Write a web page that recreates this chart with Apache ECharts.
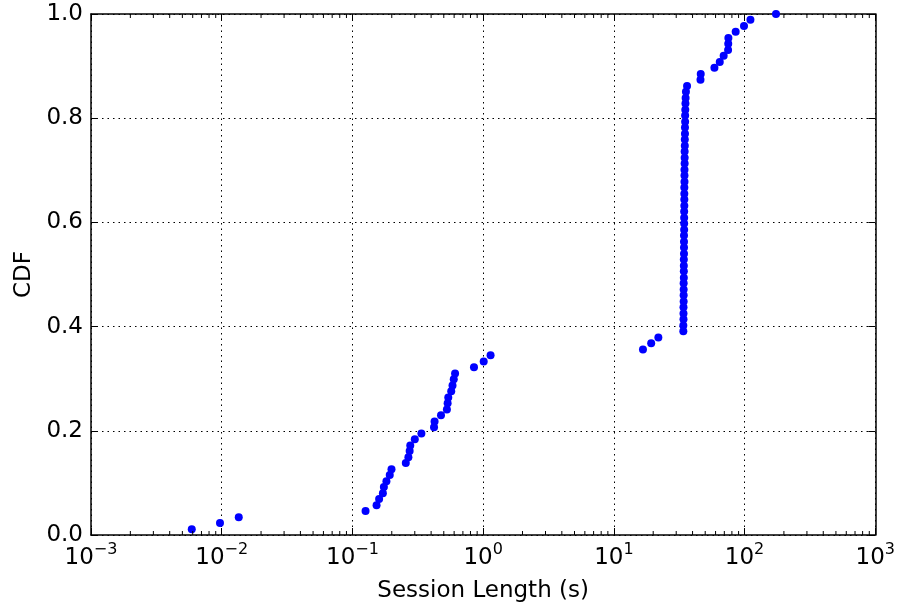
<!DOCTYPE html>
<html lang="en">
<head>
  <script src="https://cdn.jsdelivr.net/npm/echarts@6.0.0/dist/echarts.min.js"></script>
  <meta charset="UTF-8">
</head>
<body style="margin:0">
  <div id="cdfChart" style="width: 898px;height:609px;"></div>

  <script type="text/javascript">

    // session lengths (s), sorted
    var sessionLength = [
      0.0059, 0.0097, 0.0135,
      0.126, 0.153, 0.160, 0.171, 0.174, 0.182, 0.193, 0.199,
      0.256, 0.268, 0.274, 0.277, 0.300, 0.337, 0.421, 0.425, 0.476, 0.528, 0.535, 0.541, 0.570, 0.583, 0.596, 0.610,
      0.851, 1.01, 1.14,
      16.7, 19.3, 21.9,
      34.0, 34.0, 34.1, 34.1, 34.1, 34.2, 34.2, 34.2, 34.2, 34.3, 34.3, 34.3, 34.3, 34.4, 34.4, 34.4, 34.4,
      34.5, 34.5, 34.5, 34.5, 34.6, 34.6, 34.6, 34.6, 34.7, 34.7, 34.7, 34.8, 34.8, 34.8, 34.9, 34.9,
      35.0, 35.0, 35.1, 35.1, 35.2, 35.3, 35.4, 35.6,
      36.3, 46.0, 46.2, 58.8, 64.6, 69.2, 74.8, 75.0, 75.2, 85.5, 99, 110.9, 174
    ];
    var cdf = [
      0.011, 0.023, 0.034, 0.046, 0.057, 0.069, 0.080, 0.092, 0.103, 0.115,
      0.126, 0.138, 0.149, 0.161, 0.172, 0.184, 0.195, 0.207, 0.218, 0.230,
      0.241, 0.253, 0.264, 0.276, 0.287, 0.299, 0.310, 0.322, 0.333, 0.345,
      0.356, 0.368, 0.379, 0.391, 0.402, 0.414, 0.425, 0.437, 0.448, 0.460,
      0.471, 0.483, 0.494, 0.506, 0.517, 0.529, 0.540, 0.552, 0.563, 0.575,
      0.586, 0.598, 0.609, 0.621, 0.632, 0.644, 0.655, 0.667, 0.678, 0.690,
      0.701, 0.713, 0.724, 0.736, 0.747, 0.759, 0.770, 0.782, 0.793, 0.805,
      0.816, 0.828, 0.839, 0.851, 0.862, 0.874, 0.885, 0.897, 0.908, 0.920,
      0.931, 0.943, 0.954, 0.966, 0.977, 0.989, 1.000
    ];
    var decades = [0.001, 0.01, 0.1, 1, 10, 100];
    var minorSteps = [2, 3, 4, 5, 6, 7, 8, 9];

    var points = sessionLength.map((v, i) => [v, cdf[i]]);

    var minorTicks = [];
    decades.forEach(d => minorSteps.forEach(k => minorTicks.push([d * k, 0])));

    var font = 'DejaVu Sans';

    function expLabel(v) {
      var e = Math.round(Math.log10(v));
      return '{b|10}{s|' + String(e).replace('-', '\u2212') + '}';
    }

    function createCdfChart() {
        const chart = echarts.init(document.getElementById("cdfChart"));

        const frameLine = { show: true, onZero: false, lineStyle: { color: '#000', width: 1.5 } };
        const gridLine = { show: true, lineStyle: { color: '#000', width: 1, type: [1.5, 4] } };

        let option = {
            animation: false,
            textStyle: { fontFamily: font },
            grid: { left: 91, right: 22, top: 14, bottom: 74, containLabel: false },
            xAxis: [
                {
                    type: 'log', logBase: 10, min: 0.001, max: 1000, splitNumber: 6,
                    position: 'bottom',
                    name: 'Session Length (s)', nameLocation: 'middle', nameGap: 45,
                    nameTextStyle: { fontSize: 23, color: '#000', fontFamily: font },
                    axisLine: frameLine,
                    axisTick: { show: true, inside: true, length: 7, lineStyle: { color: '#000' } },
                    splitLine: gridLine,
                    axisLabel: {
                        color: '#000', margin: 7, formatter: expLabel,
                        rich: {
                            b: { fontSize: 23, fontFamily: font, color: '#000', padding: [5, 0, 0, 0] },
                            s: { fontSize: 16, fontFamily: font, color: '#000', verticalAlign: 'top' }
                        }
                    }
                },
                {
                    type: 'log', logBase: 10, min: 0.001, max: 1000, splitNumber: 6,
                    position: 'top',
                    axisLine: frameLine,
                    axisTick: { show: true, inside: true, length: 7, lineStyle: { color: '#000' } },
                    axisLabel: { show: false },
                    splitLine: { show: false }
                }
            ],
            yAxis: [
                {
                    type: 'value', min: 0, max: 1, interval: 0.2,
                    position: 'left',
                    name: 'CDF', nameLocation: 'middle', nameGap: 55,
                    nameTextStyle: { fontSize: 23, color: '#000', fontFamily: font },
                    axisLine: frameLine,
                    axisTick: { show: true, inside: true, length: 7, lineStyle: { color: '#000' } },
                    splitLine: gridLine,
                    axisLabel: { color: '#000', fontSize: 23, margin: 8, formatter: v => v.toFixed(1) }
                },
                {
                    type: 'value', min: 0, max: 1, interval: 0.2,
                    position: 'right',
                    axisLine: frameLine,
                    axisTick: { show: true, inside: true, length: 7, lineStyle: { color: '#000' } },
                    axisLabel: { show: false },
                    splitLine: { show: false }
                }
            ],
            series: [
                {
                    name: 'CDF',
                    type: 'scatter',
                    data: points,
                    symbol: 'circle',
                    symbolSize: 8,
                    itemStyle: { color: '#0000ff', opacity: 1 },
                    z: 2
                },
                {
                    name: 'minor ticks',
                    type: 'custom',
                    data: minorTicks,
                    clip: false,
                    silent: true,
                    z: 3,
                    renderItem: function (params, api) {
                        var v = api.value(0);
                        var pb = api.coord([v, 0]);
                        var pt = api.coord([v, 1]);
                        var style = { stroke: '#000', lineWidth: 1 };
                        return {
                            type: 'group',
                            children: [
                                { type: 'line', shape: { x1: pb[0], y1: pb[1], x2: pb[0], y2: pb[1] - 4 }, style: style },
                                { type: 'line', shape: { x1: pt[0], y1: pt[1], x2: pt[0], y2: pt[1] + 4 }, style: style }
                            ]
                        };
                    }
                }
            ]
        };

        chart.setOption(option);
    }
    createCdfChart();
  </script>
</body>
</html>
